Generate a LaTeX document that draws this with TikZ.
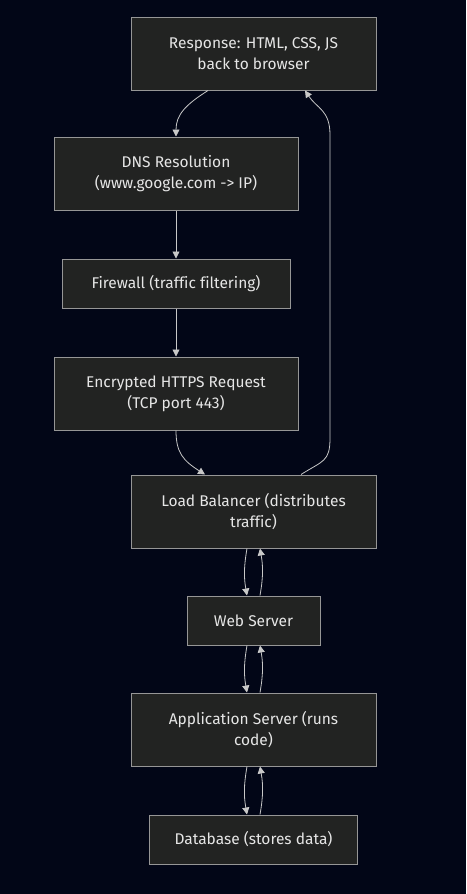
\documentclass[tikz,border=0pt]{standalone}
\usepackage{fontspec}
\setmainfont{Fira Sans}[Ligatures=NoCommon]
\usetikzlibrary{positioning, arrows.meta}
\definecolor{nightbg}{RGB}{2,6,23}
\definecolor{boxfill}{RGB}{34,35,34}
\definecolor{boxline}{RGB}{150,150,150}
\definecolor{linkgray}{RGB}{200,200,200}
\definecolor{textgray}{RGB}{230,230,230}

\begin{document}
\begin{tikzpicture}[x=1pt, y=-1pt,
  box/.style={rectangle, draw=boxline, fill=boxfill, line width=1pt, text=textgray,
    align=center, font=\fontsize{15.5}{21}\selectfont, minimum height=49pt, inner sep=0pt},
  tall/.style={minimum height=73pt},
  link/.style={-{Triangle[length=7pt, width=7pt]}, draw=linkgray, line width=0.8pt}
]
  \fill[nightbg] (0,0) rectangle (466,894);
  \useasboundingbox (0,0) rectangle (466,894);

  \node[box, tall, minimum width=245pt] (resp) at (253.5,53.5) {Response: HTML, CSS, JS\\back to browser};
  \node[box, tall, minimum width=244pt] (dns) at (176,173.5) {DNS Resolution\\(www.google.com -> IP)};
  \node[box, minimum width=228pt, below=48pt of dns] (fw) {Firewall (traffic filtering)};
  \node[box, tall, minimum width=244pt, below=48pt of fw] (https) {Encrypted HTTPS Request\\(TCP port 443)};
  \node[box, tall, minimum width=245pt] (lb) at (253.5,511.5) {Load Balancer (distributes\\traffic)};
  \node[box, minimum width=133pt, below=47pt of lb] (web) {Web Server};
  \node[box, tall, minimum width=245pt, below=47pt of web] (app) {Application Server (runs\\code)};
  \node[box, minimum width=208pt, below=48pt of app] (db) {Database (stores data)};

  \draw[link] ([xshift=-45.5pt]resp.south) .. controls +(-22,14) and +(0,-22) .. (dns.north);
  \draw[link] (dns) -- (fw);
  \draw[link] (fw) -- (https);
  \draw[link] (https.south) .. controls +(0,22) and +(-22,-14) .. ([xshift=-48.5pt]lb.north);
  \draw[link] ([xshift=47.5pt]lb.north) .. controls +(22,-14) and +(0,24) .. (330,438)
    -- (330,135) .. controls +(0,-25) and +(12,18) .. ([xshift=51.5pt]resp.south);
  \draw[link] ([xshift=-6.5pt]lb.south) to[bend right=10] ([xshift=-6.5pt]web.north);
  \draw[link] ([xshift=6.5pt]web.north) to[bend right=10] ([xshift=6.5pt]lb.south);
  \draw[link] ([xshift=-6.5pt]web.south) to[bend right=10] ([xshift=-6.5pt]app.north);
  \draw[link] ([xshift=6.5pt]app.north) to[bend right=10] ([xshift=6.5pt]web.south);
  \draw[link] ([xshift=-6.5pt]app.south) to[bend right=10] ([xshift=-6.5pt]db.north);
  \draw[link] ([xshift=6.5pt]db.north) to[bend right=10] ([xshift=6.5pt]app.south);
\end{tikzpicture}
\end{document}
